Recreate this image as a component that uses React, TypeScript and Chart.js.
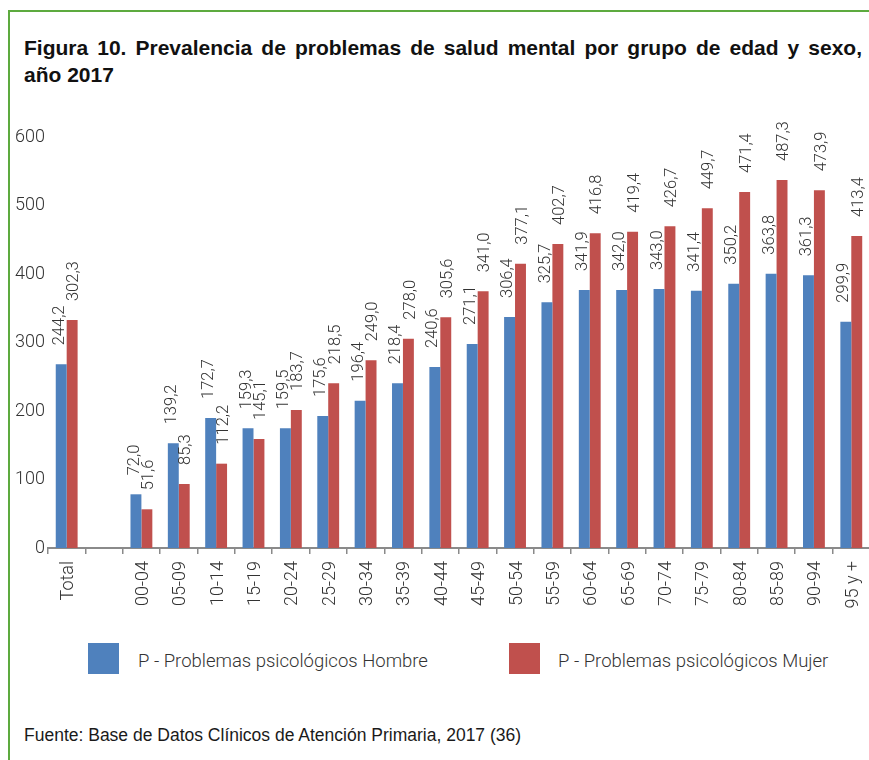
import React, { useEffect, useRef } from 'react';
import { Chart, registerables } from 'chart.js';

Chart.register(...registerables);

// ---------- data ----------
const categories = [
  'Total', '', '00-04', '05-09', '10-14', '15-19', '20-24', '25-29', '30-34', '35-39', '40-44',
  '45-49', '50-54', '55-59', '60-64', '65-69', '70-74', '75-79', '80-84', '85-89', '90-94', '95 y +',
];

// bar heights as drawn in the picture (axis units)
const hombreValues = [
  268.2, null, 78.4, 152.8, 189.8, 174.7, 174.7, 192.7, 215.1, 240.4, 264.2,
  297.8, 337.2, 358.7, 376.6, 376.6, 378.1, 375.7, 385.9, 400.5, 398.1, 330.4,
];
const mujerValues = [
  332.8, null, 56.5, 93.4, 123.1, 159.1, 201.5, 240.4, 274.0, 305.6, 336.8,
  374.7, 415.0, 443.8, 459.4, 461.8, 469.6, 495.9, 519.7, 537.2, 522.1, 455.5,
];

// value labels printed above the bars
const hombreLabels = [
  '244,2', '', '72,0', '139,2', '172,7', '159,3', '159,5', '175,6', '196,4', '218,4', '240,6',
  '271,1', '306,4', '325,7', '341,9', '342,0', '343,0', '341,4', '350,2', '363,8', '361,3', '299,9',
];
const mujerLabels = [
  '302,3', '', '51,6', '85,3', '112,2', '145,1', '183,7', '218,5', '249,0', '278,0', '305,6',
  '341,0', '377,1', '402,7', '416,8', '419,4', '426,7', '449,7', '471,4', '487,3', '473,9', '413,4',
];

const yTicks = [0, 100, 200, 300, 400, 500, 600];

const seriesNames = ['P - Problemas psicológicos Hombre', 'P - Problemas psicológicos Mujer'];
const seriesColors = ['#4F81BD', '#C0504D'];

const titleLine1 = 'Figura 10. Prevalencia de problemas de salud mental por grupo de edad y sexo,';
const titleLine2 = 'año 2017';
const sourceText = 'Fuente: Base de Datos Clínicos de Atención Primaria, 2017 (36)';

// ---------- styles ----------
const LIGHT_FAMILY = 'Roboto, "Liberation Sans", Arial, sans-serif';
const TEXT_COLOR = '#333333';
const AXIS_COLOR = '#8a8a8a';

const valueLabelPlugin = {
  id: 'valueLabels',
  afterDatasetsDraw(chart: any) {
    const ctx = chart.ctx;
    const texts = [hombreLabels, mujerLabels];
    const shift = [-1.5, 2];
    ctx.save();
    ctx.font = `300 16.5px ${LIGHT_FAMILY}`;
    ctx.fillStyle = TEXT_COLOR;
    ctx.textAlign = 'left';
    ctx.textBaseline = 'middle';
    chart.data.datasets.forEach((ds: any, di: number) => {
      const meta = chart.getDatasetMeta(di);
      meta.data.forEach((bar: any, i: number) => {
        const t = texts[di][i];
        if (!t || ds.data[i] == null) return;
        ctx.save();
        ctx.translate(bar.x + shift[di], bar.y - 19);
        ctx.rotate(-Math.PI / 2);
        ctx.fillText(t, 0, 0);
        ctx.restore();
      });
    });
    ctx.restore();
  },
};

function BarChart() {
  const ref = useRef<HTMLCanvasElement | null>(null);
  useEffect(() => {
    if (!ref.current) return;
    const chart = new Chart(ref.current, {
      type: 'bar',
      data: {
        labels: categories,
        datasets: [
          {
            label: seriesNames[0],
            data: hombreValues,
            backgroundColor: seriesColors[0],
            borderWidth: 0,
            categoryPercentage: 0.585,
            barPercentage: 1,
          },
          {
            label: seriesNames[1],
            data: mujerValues,
            backgroundColor: seriesColors[1],
            borderWidth: 0,
            categoryPercentage: 0.585,
            barPercentage: 1,
          },
        ],
      },
      options: {
        responsive: false,
        animation: false,
        layout: { padding: { top: 47, left: 0, right: 4.8, bottom: 12 } },
        plugins: {
          legend: { display: false },
          tooltip: { enabled: false },
          title: { display: false },
        },
        scales: {
          x: {
            offset: true,
            grid: {
              display: true,
              drawOnChartArea: false,
              drawTicks: true,
              tickLength: 6,
              color: AXIS_COLOR,
              lineWidth: 1.5,
              offset: true,
            },
            border: { display: true, color: AXIS_COLOR, width: 2 },
            ticks: {
              font: { family: LIGHT_FAMILY, size: 18, weight: '300' },
              color: TEXT_COLOR,
              minRotation: 90,
              maxRotation: 90,
              padding: 7,
              labelOffset: 2,
              autoSkip: false,
            },
            afterFit: (s: any) => {
              s.height = 70;
            },
          },
          y: {
            min: 0,
            max: 600,
            grid: { display: false, drawTicks: false, tickLength: 0 },
            border: { display: false },
            ticks: {
              font: { family: LIGHT_FAMILY, size: 18, weight: '300' },
              color: TEXT_COLOR,
              padding: 3,
            },
            afterBuildTicks: (s: any) => {
              s.ticks = yTicks.map((v) => ({ value: v }));
            },
            afterFit: (s: any) => {
              s.width = 48;
            },
          },
        },
      },
      plugins: [valueLabelPlugin],
    } as any);
    return () => chart.destroy();
  }, []);
  return (
    <canvas
      ref={ref}
      width={880}
      height={540}
      style={{ position: 'absolute', left: 0, top: 90, width: 880, height: 540 }}
    />
  );
}

export default function App() {
  const green = '#5DAA3F';
  const titleStyle: any = {
    position: 'absolute',
    left: 24,
    fontFamily: '"Liberation Sans", Arial, sans-serif',
    fontWeight: 'bold',
    fontSize: 21,
    lineHeight: '27px',
    color: '#111',
  };
  const legendTextStyle: any = {
    position: 'absolute',
    top: 651.5,
    fontFamily: LIGHT_FAMILY,
    fontWeight: 300,
    fontSize: 18.5,
    lineHeight: '19px',
    color: TEXT_COLOR,
    whiteSpace: 'nowrap',
  };
  return (
    <div
      style={{
        position: 'fixed',
        left: 0,
        top: 0,
        width: 869,
        height: 760,
        overflow: 'hidden',
        background: '#ffffff',
      }}
    >
      <div
        style={{
          position: 'absolute',
          left: 8,
          top: 10,
          width: 900,
          height: 800,
          borderLeft: `2.5px solid ${green}`,
          borderTop: `2.5px solid ${green}`,
          boxSizing: 'border-box',
        }}
      />
      <div
        style={{
          ...titleStyle,
          top: 34.2,
          width: 838,
          textAlign: 'justify',
          textAlignLast: 'justify',
        }}
      >
        {titleLine1}
      </div>
      <div style={{ ...titleStyle, top: 61.2, whiteSpace: 'nowrap' }}>{titleLine2}</div>

      <BarChart />

      {/* legend */}
      <div style={{ position: 'absolute', left: 88, top: 643, width: 31, height: 31, background: seriesColors[0] }} />
      <div style={{ ...legendTextStyle, left: 138 }}>{seriesNames[0]}</div>
      <div style={{ position: 'absolute', left: 509, top: 643, width: 31, height: 31, background: seriesColors[1] }} />
      <div style={{ ...legendTextStyle, left: 558 }}>{seriesNames[1]}</div>

      <div
        style={{
          position: 'absolute',
          left: 24,
          top: 727.2,
          fontFamily: '"Liberation Sans", Arial, sans-serif',
          fontSize: 17.5,
          lineHeight: '17.5px',
          color: '#1a1a1a',
          whiteSpace: 'nowrap',
        }}
      >
        {sourceText}
      </div>
    </div>
  );
}
